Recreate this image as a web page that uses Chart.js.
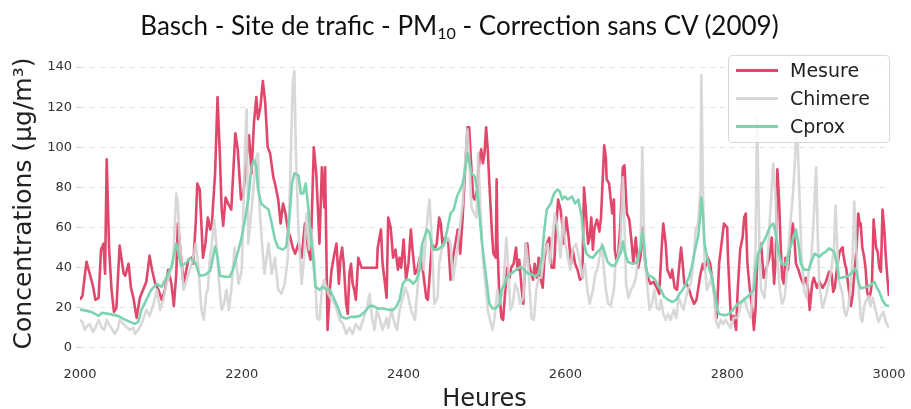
<!DOCTYPE html>
<html>
<head>
<meta charset="utf-8">
<script src="https://cdn.jsdelivr.net/npm/chart.js@4"></script>
<style>
  html, body { margin: 0; padding: 0; background: #fff; }
  #wrap { position: relative; width: 911px; height: 409px; }
  #title { position: absolute; left: 0; top: 9px; width: 911px; padding-left: 8px; box-sizing: border-box;
           text-align: center; font-family: Lato, sans-serif; font-size: 26px; color: #111; white-space: nowrap; }
  #title sub { font-size: 0.62em; vertical-align: -0.25em; line-height: 0; }
  #legend { position: absolute; left: 728px; top: 55px; width: 162px; height: 88px; box-sizing: border-box;
            border: 1px solid #d8d8d8; border-radius: 4px; background: rgba(255,255,255,0.85);
            font-family: "DejaVu Sans", sans-serif; font-size: 19px; color: #222; }
  .item { position: absolute; left: 7px; height: 28px; display: flex; align-items: center; }
  .swatch { width: 42px; height: 3px; margin-right: 12px; }
</style>
</head>
<body>
<div id="wrap">
  <canvas id="chart" width="911" height="409"></canvas>
  <div id="title">Basch - Site de trafic - PM<sub>10</sub> - Correction sans CV (2009)</div>
  <div id="legend"></div>
</div>
<script>
// [hour, concentration]
const mesure = [
  [2000,24],[2003,26],[2008,43],[2012,37],[2016,31],[2019,24],[2023,25],[2026,49],[2029,52],[2031,37],
  [2033,94],[2036,49],[2039,29],[2042,18],[2045,20],[2049,51],[2054,37],[2056,36],[2060,42],[2063,30],
  [2066,25],[2070,15],[2074,25],[2078,29],[2082,33],[2086,46],[2089,39],[2093,32],[2097,29],[2101,24],
  [2105,29],[2109,39],[2113,32],[2116,21],[2119,37],[2121,62],[2125,45],[2128,32],[2134,44],[2138,45],
  [2140,42],[2143,62],[2145,82],[2148,79],[2152,45],[2155,52],[2158,65],[2161,59],[2163,62],[2167,87],
  [2170,125],[2173,95],[2175,70],[2177,61],[2180,75],[2183,72],[2187,69],[2192,107],[2195,99],[2199,74],
  [2202,77],[2206,95],[2209,106],[2212,87],[2215,112],[2218,125],[2220,114],[2223,120],[2226,133],[2229,122],
  [2232,100],[2235,97],[2239,85],[2241,82],[2245,74],[2248,62],[2251,72],[2254,67],[2257,59],[2260,55],
  [2263,50],[2266,47],[2270,52],[2274,45],[2278,62],[2282,49],[2285,44],[2289,100],[2292,87],[2294,70],
  [2296,52],[2299,90],[2302,70],[2303,90],[2306,9],[2309,30],[2311,39],[2314,46],[2317,52],[2320,32],
  [2322,45],[2324,50],[2326,42],[2329,22],[2331,17],[2333,37],[2335,42],[2337,32],[2339,29],[2341,24],
  [2344,45],[2348,40],[2367,40],[2368,50],[2372,59],[2374,42],[2377,32],[2379,25],[2381,65],[2384,60],
  [2387,45],[2390,49],[2393,39],[2395,45],[2397,40],[2400,54],[2403,34],[2406,42],[2409,59],[2411,49],
  [2414,37],[2417,39],[2420,45],[2422,44],[2425,35],[2428,25],[2430,24],[2432,35],[2435,52],[2438,49],
  [2441,52],[2444,65],[2446,62],[2448,52],[2451,55],[2455,54],[2458,34],[2461,45],[2464,52],[2467,59],
  [2470,47],[2473,65],[2476,89],[2479,110],[2481,110],[2483,95],[2486,75],[2488,74],[2491,79],[2494,95],
  [2496,99],[2498,92],[2500,97],[2502,110],[2504,99],[2506,82],[2509,59],[2511,47],[2514,45],[2515,84],
  [2516,52],[2518,29],[2521,15],[2523,14],[2525,25],[2528,40],[2531,35],[2533,40],[2536,42],[2539,50],
  [2541,39],[2543,44],[2546,29],[2548,22],[2551,52],[2553,52],[2555,42],[2558,37],[2560,34],[2562,42],
  [2565,35],[2567,45],[2569,35],[2572,30],[2574,44],[2577,52],[2580,55],[2583,40],[2586,40],[2588,57],
  [2591,74],[2594,69],[2596,62],[2598,52],[2601,65],[2604,55],[2607,42],[2609,49],[2612,42],[2615,39],
  [2618,34],[2621,35],[2623,80],[2625,70],[2628,52],[2630,55],[2632,65],[2634,49],[2636,60],[2639,64],
  [2642,58],[2644,65],[2648,101],[2650,95],[2651,84],[2654,82],[2656,74],[2658,67],[2660,74],[2661,49],
  [2663,44],[2665,45],[2668,62],[2671,90],[2673,91],[2676,67],[2679,64],[2682,52],[2684,42],[2687,55],
  [2690,40],[2693,46],[2695,60],[2698,45],[2701,36],[2705,32],[2709,33],[2713,30],[2716,27],[2719,50],
  [2721,62],[2724,52],[2726,39],[2730,35],[2732,39],[2735,30],[2738,29],[2741,42],[2743,50],[2745,42],
  [2747,32],[2750,32],[2753,29],[2756,25],[2759,22],[2762,24],[2767,37],[2770,42],[2772,39],[2776,45],
  [2779,42],[2782,32],[2785,25],[2787,15],[2790,42],[2793,52],[2796,62],[2800,60],[2801,45],[2804,19],
  [2805,14],[2808,16],[2811,9],[2813,29],[2816,49],[2819,55],[2821,65],[2823,67],[2825,42],[2828,29],
  [2831,19],[2833,9],[2835,19],[2837,42],[2840,48],[2842,52],[2845,35],[2848,39],[2850,42],[2852,45],
  [2855,55],[2858,32],[2860,45],[2862,89],[2864,75],[2866,52],[2868,35],[2870,32],[2872,45],[2875,39],
  [2878,52],[2881,62],[2883,55],[2885,42],[2888,39],[2891,35],[2894,32],[2897,35],[2900,29],[2902,19],
  [2905,32],[2907,35],[2911,30],[2914,33],[2918,30],[2922,33],[2926,38],[2929,37],[2931,28],[2933,30],
  [2936,41],[2939,48],[2942,50],[2943,48],[2946,41],[2947,40],[2950,30],[2953,21],[2955,26],[2958,41],
  [2960,50],[2962,67],[2964,61],[2965,62],[2967,50],[2969,46],[2971,40],[2973,28],[2975,25],[2977,27],
  [2979,33],[2981,64],[2984,50],[2986,48],[2988,40],[2990,38],[2992,69],[2994,60],[2996,46],[2998,35],
  [3000,26]
];

const chimere = [
  [2000,14],[2003,13],[2006,9],[2009,11],[2012,12],[2016,8],[2019,10],[2023,14],[2027,10],[2030,9],
  [2033,14],[2037,11],[2040,9],[2043,7],[2047,10],[2049,14],[2056,11],[2062,9],[2066,10],[2068,7],
  [2072,9],[2076,12],[2082,19],[2086,16],[2091,22],[2095,29],[2099,19],[2103,24],[2107,32],[2111,37],
  [2115,42],[2117,60],[2119,77],[2121,72],[2123,54],[2128,29],[2132,34],[2136,39],[2140,45],[2143,52],
  [2146,42],[2150,19],[2153,14],[2156,27],[2158,29],[2160,42],[2163,52],[2166,64],[2169,49],[2172,32],
  [2175,19],[2178,22],[2181,29],[2184,19],[2187,29],[2191,50],[2196,32],[2200,39],[2202,70],[2204,100],
  [2206,119],[2208,52],[2212,69],[2215,82],[2218,95],[2220,97],[2222,69],[2225,52],[2228,37],[2233,52],
  [2237,37],[2241,45],[2245,29],[2249,27],[2253,32],[2257,45],[2260,87],[2263,132],[2265,138],[2267,95],
  [2270,59],[2274,32],[2277,45],[2280,67],[2283,49],[2286,59],[2290,42],[2293,15],[2296,14],[2299,29],
  [2302,34],[2307,27],[2311,24],[2315,22],[2319,17],[2321,14],[2325,12],[2329,7],[2333,10],[2337,7],
  [2341,12],[2346,9],[2350,14],[2354,19],[2358,27],[2361,15],[2364,9],[2367,19],[2370,15],[2374,9],
  [2379,15],[2381,10],[2385,19],[2389,12],[2392,9],[2395,19],[2399,25],[2402,30],[2405,27],[2409,19],
  [2414,14],[2417,29],[2420,45],[2423,52],[2425,39],[2428,59],[2432,74],[2435,52],[2438,22],[2442,25],
  [2444,42],[2447,49],[2451,52],[2455,55],[2458,52],[2461,34],[2464,42],[2467,52],[2470,62],[2473,72],
  [2476,92],[2479,109],[2481,95],[2484,70],[2486,68],[2490,65],[2492,97],[2495,70],[2498,45],[2501,32],
  [2504,19],[2508,12],[2510,9],[2512,14],[2516,29],[2518,22],[2523,29],[2527,55],[2529,42],[2532,19],
  [2535,22],[2538,32],[2541,29],[2544,22],[2548,25],[2551,52],[2554,42],[2558,15],[2561,14],[2564,29],
  [2567,35],[2570,35],[2574,47],[2578,52],[2581,42],[2584,55],[2587,67],[2590,60],[2594,45],[2597,65],
  [2600,52],[2603,45],[2606,39],[2609,49],[2613,52],[2617,45],[2621,35],[2624,42],[2627,29],[2630,22],
  [2634,29],[2637,37],[2640,40],[2642,45],[2645,52],[2647,42],[2650,29],[2653,22],[2656,21],[2660,29],
  [2662,42],[2665,45],[2668,52],[2671,85],[2673,62],[2675,32],[2678,25],[2681,29],[2684,31],[2687,35],
  [2690,45],[2693,52],[2695,100],[2697,62],[2698,45],[2701,32],[2704,19],[2707,22],[2710,29],[2713,20],
  [2716,19],[2718,24],[2721,17],[2724,14],[2727,17],[2730,14],[2734,19],[2737,15],[2740,25],[2743,22],
  [2746,19],[2749,25],[2752,30],[2755,32],[2758,42],[2761,59],[2764,62],[2767,79],[2768,136],[2770,79],
  [2772,42],[2775,29],[2778,32],[2781,35],[2784,25],[2786,14],[2789,10],[2792,14],[2795,12],[2798,14],
  [2801,12],[2804,10],[2808,15],[2813,15],[2817,22],[2821,25],[2825,19],[2829,15],[2832,29],[2835,49],
  [2837,115],[2840,45],[2842,29],[2846,25],[2849,39],[2852,59],[2855,79],[2857,92],[2860,74],[2862,45],
  [2865,29],[2868,22],[2871,25],[2874,39],[2878,62],[2881,75],[2884,95],[2886,118],[2889,79],[2892,45],
  [2895,29],[2898,25],[2901,39],[2904,45],[2907,65],[2910,90],[2912,55],[2914,30],[2918,20],[2922,26],
  [2926,33],[2929,40],[2932,50],[2934,71],[2936,50],[2938,33],[2942,28],[2945,18],[2947,16],[2950,21],
  [2953,33],[2955,46],[2957,73],[2959,53],[2962,33],[2965,15],[2967,13],[2969,20],[2971,23],[2975,26],
  [2977,21],[2980,25],[2984,18],[2987,13],[2990,16],[2993,18],[2996,13],[3000,10]
];

const cprox = [
  [2000,19],[2003,19],[2014,18],[2023,16],[2027,17.5],[2035,17],[2047,16],[2056,14],[2068,12],[2072,13],
  [2076,19],[2082,24],[2088,29],[2095,32],[2101,30.5],[2107,35.5],[2113,40.5],[2119,52],[2125,41],[2130,42],
  [2136,44.7],[2142,43],[2148,36],[2155,36.5],[2161,38.5],[2167,50.5],[2170,45.5],[2173,36],[2179,35.5],[2185,35.5],
  [2189,39],[2196,49],[2200,55.5],[2204,64],[2208,74],[2212,90.5],[2215,93.7],[2218,90.5],[2220,79],[2224,72],
  [2228,70.5],[2233,69],[2237,62],[2241,54],[2245,50],[2251,49],[2255,50.5],[2259,65.5],[2262,82],[2265,87],
  [2270,86],[2273,77],[2276,77],[2279,82],[2282,70.5],[2285,57],[2288,45.5],[2291,30.5],[2296,29],[2300,30.5],
  [2305,29],[2309,29],[2313,25.5],[2319,20],[2323,15.5],[2329,14.7],[2335,15.5],[2340,15.5],[2346,16],[2352,18],
  [2358,21],[2362,21],[2368,19.7],[2375,19.7],[2381,19],[2387,19],[2391,20.5],[2395,24],[2399,32],[2403,34],
  [2407,34],[2412,32],[2416,34],[2420,39],[2423,52],[2426,55.5],[2429,59],[2432,57.5],[2435,50.5],[2438,49],
  [2442,49],[2447,50.5],[2450,52],[2454,59],[2458,67],[2462,69],[2466,75.5],[2470,79],[2473,82],[2476,89],
  [2479,97],[2482,91],[2484,87],[2488,85.5],[2491,79],[2494,65.5],[2497,52],[2500,42],[2503,32],[2506,22],
  [2510,19.7],[2514,19.7],[2519,22],[2521,29],[2525,32],[2528,35.5],[2533,37],[2539,39],[2545,40.5],[2549,39],
  [2554,37],[2558,37],[2562,35.5],[2567,37],[2571,45.5],[2574,59],[2577,69],[2582,72],[2586,77],[2590,79],
  [2593,78],[2596,74],[2599,75.5],[2603,74],[2608,75.5],[2612,72],[2616,74],[2620,65.5],[2623,52],[2626,47],
  [2630,45.5],[2634,45],[2640,48],[2644,49.5],[2646,51],[2649,47],[2652,43],[2656,41.3],[2661,41],[2665,44.5],
  [2669,48],[2671,53],[2674,47],[2677,43],[2683,42],[2688,42.5],[2693,50],[2695,58],[2698,48],[2700,39],
  [2703,36],[2707,35.5],[2711,34],[2714,31.5],[2718,29],[2722,25.5],[2727,24],[2732,23],[2737,24],[2741,27],
  [2745,29],[2749,32],[2753,35.5],[2757,42],[2761,50.5],[2764,55.5],[2767,67],[2768,75],[2770,67],[2772,52],
  [2775,45.5],[2778,39],[2781,36],[2784,29],[2788,19],[2790,17],[2794,16.5],[2798,16.3],[2802,17],[2805,18],
  [2813,22],[2821,24],[2827,26.3],[2833,29],[2835,39],[2838,47],[2842,50.5],[2848,55.5],[2853,60.5],[2857,62],
  [2860,57],[2863,49],[2867,42],[2872,41.5],[2877,49],[2881,54],[2885,59],[2888,52],[2891,42],[2895,39],
  [2901,39],[2905,44],[2908,47],[2914,45.5],[2918,47],[2922,48],[2926,49.7],[2932,48],[2935,43],[2938,34.7],
  [2947,35.5],[2951,36.3],[2955,38],[2958,39.7],[2960,38],[2962,33],[2965,29.7],[2973,30.5],[2977,31.3],[2982,33],
  [2984,31],[2988,28],[2992,23.8],[2996,21.3],[3000,21]
];

const seriesNames = ["Mesure", "Chimere", "Cprox"];
const seriesColors = ["#e0476b", "rgba(212,212,212,0.9)", "#7dd3b0"];
const xTicks = [2000, 2200, 2400, 2600, 2800, 3000];
const yTicks = [0, 20, 40, 60, 80, 100, 120, 140];

const toPoints = arr => arr.map(p => ({ x: p[0], y: p[1] }));

Chart.defaults.font.family = "'DejaVu Sans', sans-serif";
Chart.defaults.color = "#333";

const chart = new Chart(document.getElementById("chart"), {
    type: "line",
    data: {
        datasets: [mesure, chimere, cprox].map((s, i) => ({
            label: seriesNames[i],
            data: toPoints(s),
            borderColor: seriesColors[i],
            backgroundColor: seriesColors[i],
            order: 3 - i
        }))
    },
    options: {
        responsive: false,
        animation: false,
        layout: { padding: { top: 57, right: 22, bottom: 0, left: 0 } },
        elements: {
            line: { borderWidth: 2.6, tension: 0, borderJoinStyle: "round", fill: false },
            point: { radius: 0 }
        },
        plugins: { legend: { display: false }, tooltip: { enabled: false }, title: { display: false } },
        scales: {
            x: {
                type: "linear",
                min: 2000,
                max: 3000,
                afterBuildTicks: s => { s.ticks = xTicks.map(v => ({ value: v })); },
                afterFit: s => { s.height = 59; s.paddingLeft = 0; s.paddingRight = 0; },
                ticks: { callback: v => String(v), font: { size: 13 }, color: "#333", padding: 9, maxRotation: 0, autoSkip: false },
                grid: { display: false },
                border: { display: false },
                title: { display: true, text: "Heures", font: { size: 24, lineHeight: 0.75 }, color: "#222", padding: { top: 0, bottom: 0 } }
            },
            y: {
                min: -1,
                max: 145,
                afterBuildTicks: s => { s.ticks = yTicks.map(v => ({ value: v })); },
                afterFit: s => { s.width = 80; },
                ticks: { font: { size: 13 }, color: "#333", padding: 4 },
                grid: { color: "#e3e3e3", lineWidth: 1, drawTicks: true, tickLength: 4, tickColor: "#cccccc", tickBorderDash: [] },
                border: { display: false, dash: [5, 5] },
                title: { display: true, text: "Concentrations (µg/m³)", font: { size: 25, lineHeight: 1 }, color: "#222", padding: { top: 12, bottom: 0 } }
            }
        }
    }
});

// html legend, built from the datasets
const legend = document.getElementById("legend");
chart.data.datasets.forEach((ds, i) => {
    const row = document.createElement("div");
    row.className = "item";
    row.style.top = (i * 28) + "px";
    const sw = document.createElement("span");
    sw.className = "swatch";
    sw.style.background = ds.borderColor;
    const txt = document.createElement("span");
    txt.textContent = ds.label;
    row.appendChild(sw);
    row.appendChild(txt);
    legend.appendChild(row);
});
</script>
</body>
</html>
